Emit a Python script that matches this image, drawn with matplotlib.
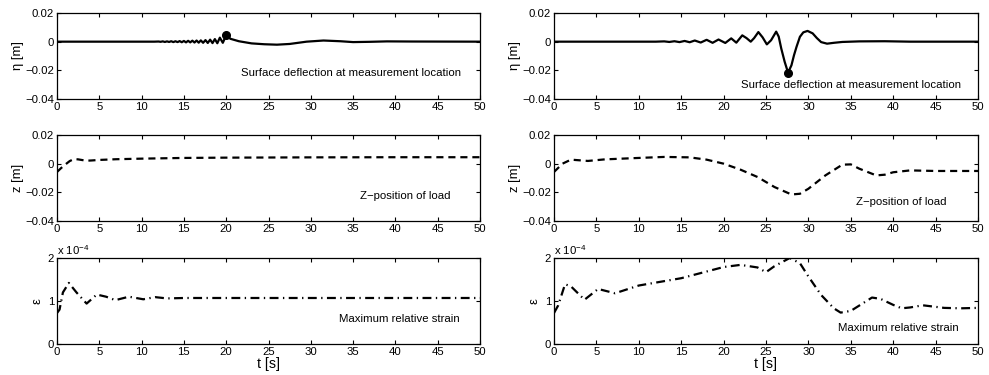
import matplotlib
matplotlib.use("Agg")
import matplotlib.pyplot as plt
from matplotlib.ticker import FixedLocator, FixedFormatter

plt.rcParams['font.family'] = ['Liberation Sans', 'DejaVu Sans']
plt.rcParams['axes.unicode_minus'] = True

# ---- Case 1 (left column) ----
eta_t_left = [0, 11.5, 12.0, 12.25, 12.5, 12.75, 13.0, 13.25, 13.5, 13.75, 14.0, 14.25,
              14.5, 14.75, 15.0, 15.25, 15.5, 15.75, 16.0, 16.25, 16.5, 16.75, 17.0,
              17.27, 17.55, 17.82, 18.1, 18.38, 18.66, 18.95, 19.25, 19.6, 20.0, 20.5,
              21.5, 23.0, 24.5, 26.0, 27.5, 29.5, 31.5, 33.5, 35.0, 37.0, 39.0, 42.0, 50.0]
eta_left = [0, 0, 0.0001, -0.0001, 0.0002, -0.0002, 0.0002, -0.0002, 0.0003, -0.0003,
            0.0003, -0.0003, 0.0004, -0.0004, 0.0005, -0.0005, 0.0006, -0.0005, 0.0007,
            -0.0006, 0.0008, -0.0007, 0.0009, -0.0008, 0.0011, -0.0009, 0.0014, -0.0010,
            0.0018, -0.0011, 0.0028, -0.0008, 0.0045, 0.0020, 0.0003, -0.0012, -0.0018,
            -0.0021, -0.0016, 0.0, 0.0008, 0.0003, -0.0003, -0.0001, 0.0002, 0.0001, 0.0]
eta_marker_left = (20.0, 0.0045)

z_t_left = [0, 0.5, 1.0, 1.5, 2.0, 2.5, 3.0, 3.5, 4.0, 5, 7, 10, 15, 20, 30, 40, 50]
z_left = [-0.0058, -0.003, -0.0005, 0.0018, 0.0032, 0.003, 0.0025, 0.0021, 0.0022,
          0.0026, 0.0031, 0.0035, 0.004, 0.0042, 0.0044, 0.0045, 0.0045]

eps_t_left = [0, 0.3, 0.7, 1.4, 2.3, 3.5, 4.7, 5.8, 6.9, 8.5, 10.2, 11.6, 13, 15, 20,
              30, 40, 50]
eps_left = [0.72, 0.8, 1.2, 1.42, 1.2, 0.94, 1.15, 1.1, 1.02, 1.1, 1.04, 1.09, 1.06,
            1.07, 1.07, 1.07, 1.07, 1.07]   # in units of 1e-4

# ---- Case 2 (right column) ----
eta_t_right = [0, 12.0, 13.0, 13.6, 14.2, 14.8, 15.4, 16.0, 16.6, 17.3, 18.0, 18.7,
               19.4, 20.2, 20.9, 21.5, 22.2, 22.7, 23.2, 23.6, 24.1, 24.6, 25.1, 25.6,
               26.2, 26.5, 26.8, 27.2, 27.6, 28.0, 28.3, 28.6, 29.0, 29.4, 29.9, 30.5,
               31.0, 31.5, 32.2, 33.0, 34.0, 36.0, 39.0, 42.0, 50.0]
eta_right = [0, 0, 0.0002, -0.0002, 0.0003, -0.0003, 0.0005, -0.0004, 0.0008, -0.0006,
             0.0013, -0.0008, 0.0015, -0.0009, 0.0023, -0.0007, 0.0044, 0.0025, 0.0,
             0.0025, 0.0067, 0.003, -0.0019, 0.001, 0.007, 0.0035, -0.0048, -0.014,
             -0.0216, -0.0165, -0.0095, -0.0036, 0.0034, 0.0065, 0.0075, 0.0058, 0.0025,
             -0.0003, -0.0014, -0.0008, -0.0002, 0.0002, 0.0003, 0.0, 0.0]
eta_marker_right = (27.6, -0.0216)

z_t_right = [0, 1, 2, 4, 6, 10, 13, 16, 18, 20, 22, 24, 26, 28, 29, 30, 32, 34, 35, 36,
             38, 39, 40, 42, 45, 50]
z_right = [-0.0058, 0.0, 0.0028, 0.0019, 0.003, 0.004, 0.0047, 0.0044, 0.0028, 0.0,
           -0.0042, -0.0093, -0.0163, -0.0215, -0.021, -0.0175, -0.0082, -0.0007,
           -0.0005, -0.0035, -0.0082, -0.0077, -0.006, -0.0047, -0.0051, -0.0051]

eps_t_right = [0, 0.5, 1.3, 2.0, 3.6, 5.2, 7.2, 10, 15, 20, 22, 24, 25, 26, 27.8, 29,
               30, 31.5, 33, 33.8, 35, 37.5, 38.5, 40, 41, 42, 43.5, 46, 48, 50]
eps_right = [0.72, 0.9, 1.39, 1.34, 1.03, 1.28, 1.18, 1.36, 1.53, 1.79, 1.84, 1.78,
             1.67, 1.81, 2.0, 1.88, 1.57, 1.14, 0.83, 0.73, 0.77, 1.08, 1.05, 0.91,
             0.83, 0.85, 0.9, 0.84, 0.83, 0.84]   # in units of 1e-4

x_ticks = [0, 5, 10, 15, 20, 25, 30, 35, 40, 45, 50]
pos_ticks = [-0.04, -0.02, 0, 0.02]
pos_labels = ['\u22120.04', '\u22120.02', '0', '0.02']
eps_ticks = [0, 1, 2]
eps_labels = ['0', '1', '2']

FS = 8.2
W, H = 989, 375
fig = plt.figure(figsize=(W / 100, H / 100), dpi=100)

col_left = [57, 554]
col_right = [480, 978]
row_top = [13, 135, 258]
row_h = 86


def make_ax(c, r):
    x0, x1 = col_left[c], col_right[c]
    y0 = row_top[r]
    ax = fig.add_axes([x0 / W, 1 - (y0 + row_h) / H, (x1 - x0) / W, row_h / H])
    ax.set_xlim(0, 50)
    ax.xaxis.set_major_locator(FixedLocator(x_ticks))
    ax.tick_params(direction='in', length=3, width=0.8, top=True, right=True,
                   labelsize=FS, pad=2, colors='black')
    for s in ax.spines.values():
        s.set_linewidth(0.9)
    return ax


lw = 1.6
line_kw = dict(color='black', linewidth=lw)
cases = [
    (eta_t_left, eta_left, eta_marker_left, z_t_left, z_left, eps_t_left, eps_left,
     (21.7, -0.0218), (35.8, -0.0229), (33.3, 0.58)),
    (eta_t_right, eta_right, eta_marker_right, z_t_right, z_right, eps_t_right, eps_right,
     (22.0, -0.0305), (35.6, -0.0264), (33.5, 0.37)),
]

for c, (et, ev, mk, zt, zv, st, sv, p1, p2, p3) in enumerate(cases):
    # surface deflection
    ax = make_ax(c, 0)
    ax.plot(et, ev, '-', **line_kw)
    ax.plot([mk[0]], [mk[1]], 'o', color='black', markersize=5.5)
    ax.set_ylim(-0.04, 0.02)
    ax.yaxis.set_major_locator(FixedLocator(pos_ticks))
    ax.yaxis.set_major_formatter(FixedFormatter(pos_labels))
    ax.set_ylabel('\u03b7 [m]', fontsize=FS + 1.2, labelpad=1)
    ax.text(p1[0], p1[1], 'Surface deflection at measurement location',
            fontsize=FS, va='center', ha='left')

    # load position
    ax = make_ax(c, 1)
    ax.plot(zt, zv, linestyle=(0, (3.2, 2.2)), **line_kw)
    ax.set_ylim(-0.04, 0.02)
    ax.yaxis.set_major_locator(FixedLocator(pos_ticks))
    ax.yaxis.set_major_formatter(FixedFormatter(pos_labels))
    ax.set_ylabel('z [m]', fontsize=FS + 1.2, labelpad=1)
    ax.text(p2[0], p2[1], 'Z\u2212position of load', fontsize=FS, va='center', ha='left')

    # strain
    ax = make_ax(c, 2)
    ax.plot(st, sv, linestyle=(0, (4.0, 2.0, 0.6, 2.0)), **line_kw)
    ax.set_ylim(0, 2)
    ax.yaxis.set_major_locator(FixedLocator(eps_ticks))
    ax.yaxis.set_major_formatter(FixedFormatter(eps_labels))
    ax.set_ylabel('\u03b5', fontsize=FS + 1.2, labelpad=3)
    ax.text(p3[0], p3[1], 'Maximum relative strain', fontsize=FS, va='center', ha='left')
    ax.text(0.0, 1.015, 'x 10$^{\\mathregular{\u22124}}$', transform=ax.transAxes,
            fontsize=FS, ha='left', va='bottom')
    ax.set_xlabel('t [s]', fontsize=FS + 2, labelpad=0)

fig.savefig('out.png', dpi=100)
